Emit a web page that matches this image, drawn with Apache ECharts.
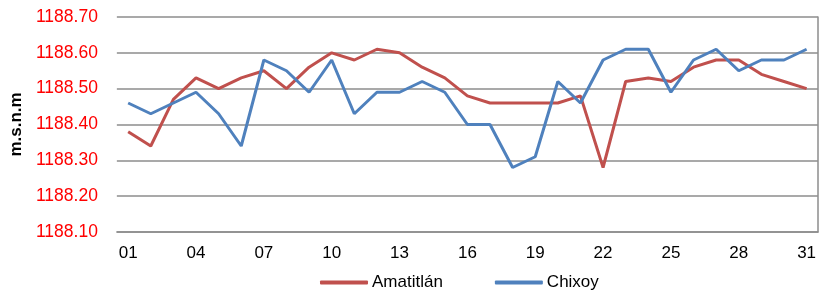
<!DOCTYPE html>
<html>
<head>
<meta charset="utf-8">
<script src="https://cdn.jsdelivr.net/npm/echarts@6/dist/echarts.min.js"></script>
<style>
  html, body { margin: 0; padding: 0; background: #fff; }
  #chart { width: 819px; height: 294px; }
</style>
</head>
<body>
<div id="chart"></div>
<script>
// dias del mes
const dias = ['01', '02', '03', '04', '05', '06', '07', '08', '09', '10',
  '11', '12', '13', '14', '15', '16', '17', '18', '19', '20',
  '21', '22', '23', '24', '25', '26', '27', '28', '29', '30', '31']

// niveles (m.s.n.m)
const amatitlan = [1188.38, 1188.34, 1188.47, 1188.53, 1188.50, 1188.53, 1188.55, 1188.50, 1188.56, 1188.60,
  1188.58, 1188.61, 1188.60, 1188.56, 1188.53, 1188.48, 1188.46, 1188.46, 1188.46, 1188.46,
  1188.48, 1188.28, 1188.52, 1188.53, 1188.52, 1188.56, 1188.58, 1188.58, 1188.54, 1188.52, 1188.50]

const chixoy = [1188.46, 1188.43, 1188.46, 1188.49, 1188.43, 1188.34, 1188.58, 1188.55, 1188.49, 1188.58,
  1188.43, 1188.49, 1188.49, 1188.52, 1188.49, 1188.40, 1188.40, 1188.28, 1188.31, 1188.52,
  1188.46, 1188.58, 1188.61, 1188.61, 1188.49, 1188.58, 1188.61, 1188.55, 1188.58, 1188.58, 1188.61]

const gris = '#8c8c8c'
const fuente = 'Liberation Sans'

const myChart = echarts.init(document.getElementById('chart'))
myChart.setOption({
  animation: false,
  textStyle: { fontFamily: fuente },
  grid: { left: 113, right: 1, top: 17, bottom: 62 },
  legend: {
    data: ['Amatitlán', 'Chixoy'],
    left: 320,
    top: 274,
    padding: 0,
    icon: 'roundRect',
    itemWidth: 48,
    itemHeight: 4,
    itemGap: 52,
    textStyle: { color: '#000', fontSize: 17, fontFamily: fuente, padding: [0, 0, 0, -1] }
  },
  xAxis: [
    {
      type: 'category',
      data: dias,
      boundaryGap: true,
      axisLine: { lineStyle: { color: gris, width: 1.5 } },
      axisTick: { interval: 2, length: 5, lineStyle: { color: gris, width: 1.5 } },
      axisLabel: { interval: 2, color: '#000', fontSize: 17, margin: 13 }
    },
    {
      // marcas hacia adentro (cruzadas)
      type: 'category',
      data: dias,
      position: 'bottom',
      boundaryGap: true,
      axisLine: { show: false },
      axisTick: { interval: 2, inside: true, length: 6, lineStyle: { color: gris, width: 1.5 } },
      axisLabel: { show: false }
    }
  ],
  yAxis: [
    {
      type: 'value',
      min: 1188.1,
      max: 1188.7,
      interval: 0.1,
      name: 'm.s.n.m',
      nameLocation: 'middle',
      nameRotate: 90,
      nameGap: 90,
      nameTextStyle: { color: '#000', fontSize: 17, fontWeight: 'bold', fontFamily: fuente },
      axisLine: { show: false },
      axisTick: { show: false },
      axisLabel: {
        color: '#ff0000',
        fontSize: 17.5,
        margin: 19,
        formatter: (v) => v.toFixed(2)
      },
      splitLine: { lineStyle: { color: gris, width: 1.5 } }
    },
    {
      // borde derecho
      type: 'value',
      position: 'right',
      min: 1188.1,
      max: 1188.7,
      interval: 0.1,
      axisLine: { show: true, lineStyle: { color: gris, width: 1.5 } },
      axisTick: { show: false },
      axisLabel: { show: false },
      splitLine: { show: false }
    }
  ],
  series: [
    {
      name: 'Amatitlán',
      type: 'line',
      data: amatitlan,
      showSymbol: false,
      color: '#c0504d',
      lineStyle: { width: 3 }
    },
    {
      name: 'Chixoy',
      type: 'line',
      data: chixoy,
      showSymbol: false,
      color: '#4f81bd',
      lineStyle: { width: 3 }
    }
  ]
})
</script>
</body>
</html>
